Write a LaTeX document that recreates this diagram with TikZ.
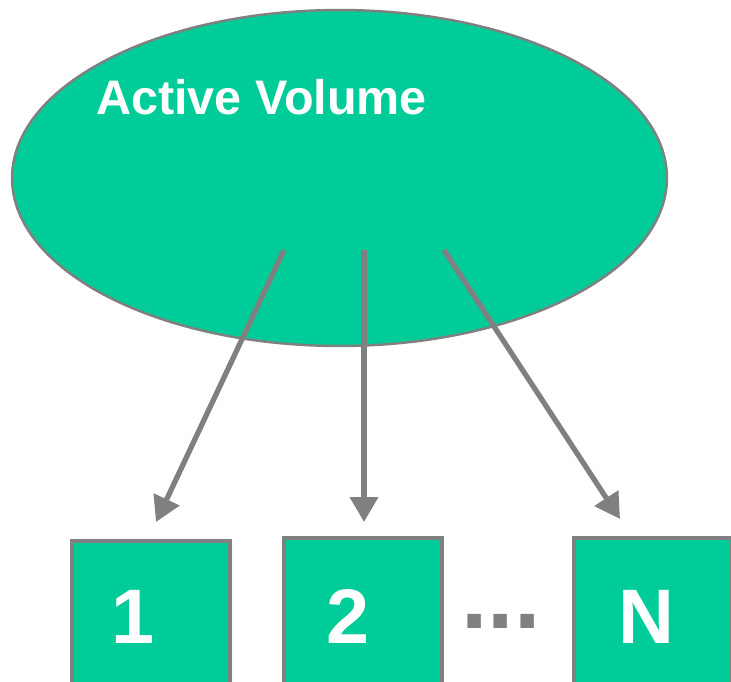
\documentclass[tikz,border=0pt]{standalone}
\usepackage{fontspec}
\setmainfont{Liberation Sans}
\usetikzlibrary{shapes.geometric,arrows.meta}
\definecolor{volgreen}{RGB}{0,204,153}
\definecolor{edgegray}{RGB}{128,128,128}
\tikzset{
  volume/.style={ellipse,draw=edgegray,fill=volgreen,line width=1.4pt},
  cell/.style={rectangle,draw=edgegray,fill=volgreen,line width=2pt,minimum width=3.16cm,minimum height=3.2cm},
  celltext/.style={text=white,inner sep=0pt,font=\fontsize{44}{44}\selectfont\bfseries},
  readout/.style={draw=edgegray,line width=3pt,-{Triangle[length=0.5cm,width=0.55cm]}}
}
\begin{document}
\begin{tikzpicture}[x=0.02cm,y=-0.02cm]
  \useasboundingbox (0,0) rectangle (731,682);

  \node[volume,minimum width=13.1cm,minimum height=6.72cm] (vol) at (339.5,178) {};
  \node[anchor=west,inner sep=0pt,text=white,font=\fontsize{27.6}{27.6}\selectfont\bfseries] (title) at (96,97) {Active Volume};

  \node[cell] (c1) at (151,621) {};
  \node[cell] (c2) at (363,618) {};
  \node[cell] (cN) at (653,618) {};

  \node[celltext] (t1) at (133,617) {1};
  \node[celltext] (t2) at (348,617) {2};
  \node[celltext] (tN) at (646,617) {N};
  \node[inner sep=0pt,text=edgegray,font=\fontsize{54}{54}\selectfont\bfseries] (dots) at (501,621) {...};

  \coordinate (s1) at (284,250);
  \coordinate (s2) at (364,250);
  \coordinate (s3) at (444,250);
  \coordinate (e1) at (156,522);
  \coordinate (e2) at (364,522);
  \coordinate (e3) at (620,519);

  \draw[readout] (s1) -- (e1);
  \draw[readout] (s2) -- (e2);
  \draw[readout] (s3) -- (e3);
\end{tikzpicture}
\end{document}
